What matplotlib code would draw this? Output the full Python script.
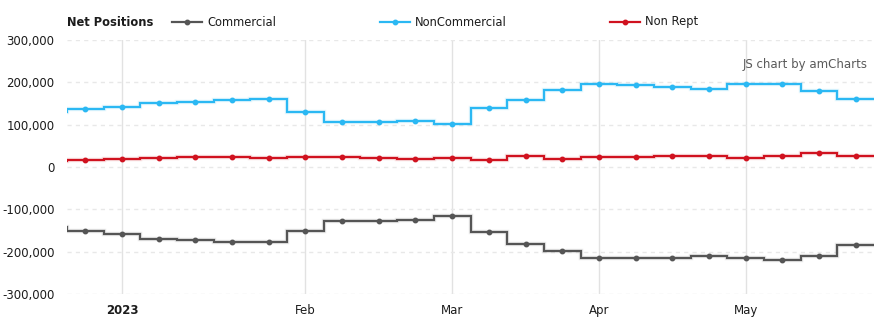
import numpy as np
import pandas as pd
import matplotlib
matplotlib.use("Agg")
import matplotlib.pyplot as plt
import matplotlib.ticker as mticker
from matplotlib.lines import Line2D

# weekly report dates (Tuesdays); the first one only carries the step in from the left edge
report_dates = pd.date_range("2022-12-20", "2023-05-23", freq="7D")

commercial = [-141000, -152000, -159000, -171000, -173000, -178000, -178000,
              -152000, -128600, -128600, -126300, -116000, -154500, -182000,
              -199000, -216000, -216000, -216000, -211000, -216000, -220000,
              -211000, -185000]
noncommercial = [130000, 137200, 141900, 151300, 153600, 158400, 160700,
                 130100, 106600, 106600, 108900, 100500, 139500, 158400,
                 181900, 196000, 193600, 189000, 184200, 196000, 196000,
                 179500, 160700]
nonrept = [14000, 17200, 19500, 21900, 24200, 24200, 21900, 24200, 24200,
           21900, 19500, 21900, 15700, 26600, 19500, 24200, 24200, 26600,
           26600, 21900, 26600, 32200, 26600]

series = [
    ("Commercial", commercial, "#555555"),
    ("NonCommercial", noncommercial, "#2bb8f3"),
    ("Non Rept", nonrept, "#d0121f"),
]

W, H = 889, 328
text_color = "#1c1c1c"
plt.rcParams["font.family"] = ["DejaVu Sans"]

fig = plt.figure(figsize=(W / 100, H / 100), dpi=100)
ax = fig.add_axes([67 / W, 1 - 294 / H, (874 - 67) / W, (294 - 40) / H])

x = np.arange(len(report_dates)) - 1
edges = np.arange(len(report_dates) + 1) - 1.5

for name, vals, col in series:
    ax.stairs(vals, edges, baseline=None, color=col, lw=3.2, alpha=0.12, zorder=3)
    ax.stairs(vals, edges, baseline=None, color=col, lw=1.6, zorder=4)
    ax.plot(x, vals, "o", ms=3.2, color=col, zorder=5)

ax.set_xlim(-0.5, len(report_dates) - 1.5)
ax.set_ylim(-300000, 300000)

# month ticks on the first report week of each month
tick_pos, tick_lab = [], []
for i in range(2, len(report_dates)):
    d = report_dates[i]
    if d.month != report_dates[i - 1].month:
        tick_pos.append(x[i])
        tick_lab.append(str(d.year) if d.month == 1 else d.strftime("%b"))
ax.set_xticks(tick_pos)
ax.set_xticklabels(tick_lab)
for lab in ax.get_xticklabels():
    if lab.get_text().isdigit():
        lab.set_fontweight("bold")

ax.yaxis.set_major_locator(mticker.MultipleLocator(100000))
ax.yaxis.set_major_formatter(mticker.FuncFormatter(lambda v, p: f"{int(v):,}"))

ax.tick_params(axis="both", length=0, labelsize=8.5, colors=text_color)
ax.tick_params(axis="y", pad=9)
ax.tick_params(axis="x", pad=7)
for s in ax.spines.values():
    s.set_visible(False)

ax.grid(True, axis="y", color="#e8e8e8", lw=1, linestyle=(0, (3, 3)), zorder=0)
ax.grid(True, axis="x", color="#e2e2e2", lw=1, zorder=0)

ax.text(0.992, 0.905, "JS chart by amCharts", transform=ax.transAxes,
        ha="right", va="center", fontsize=8.5, color="#5a5a5a")

# legend row across the top
def fx(px):
    return px / W

def fy(py):
    return 1 - py / H

fig.text(fx(67), fy(22), "Net Positions", fontsize=8.3, fontweight="bold",
         color=text_color, va="center", ha="left")
for (name, vals, col), lx in zip(series, [172, 380, 610]):
    fig.add_artist(Line2D([fx(lx), fx(lx + 30)], [fy(22), fy(22)], color=col, lw=1.6))
    fig.add_artist(Line2D([fx(lx + 15)], [fy(22)], marker="o", ms=3.2, color=col))
    fig.text(fx(lx + 35), fy(22), name, fontsize=8.3, color=text_color,
             va="center", ha="left")

fig.savefig("out.png", dpi=100)
